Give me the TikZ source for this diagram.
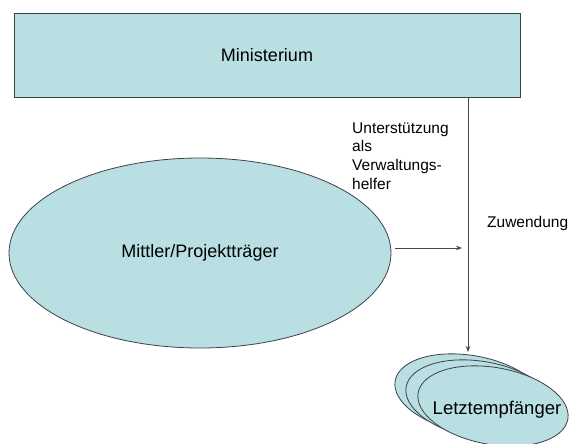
\documentclass[tikz,border=0pt]{standalone}
\usepackage{fontspec}
\setmainfont{Liberation Sans}
\usetikzlibrary{shapes.geometric,arrows.meta}
\definecolor{boxfill}{RGB}{185,223,227}
\definecolor{boxline}{RGB}{60,66,70}
\definecolor{wire}{RGB}{70,70,70}
\begin{document}
\begin{tikzpicture}[x=1pt,y=-1pt,
  unit/.style={draw=boxline,fill=boxfill,line width=0.8pt,inner sep=0pt,
    font=\fontsize{18}{21}\selectfont},
  oval/.style={unit,ellipse},
  stack/.style={oval,rotate=-10,minimum width=152pt,minimum height=77pt},
  label text/.style={inner sep=0pt,align=left,anchor=west,
    font=\fontsize{15.5}{18.6}\selectfont},
  flow/.style={draw=wire,line width=0.7pt,-{Stealth[length=6pt,width=4.5pt]}}]
\useasboundingbox (0,0) rectangle (570,444);
\fill[white] (0,0) rectangle (570,444);

% Ministry
\node[unit,rectangle,minimum width=506pt,minimum height=84pt] (min) at (267,55) {Ministerium};

% Intermediary
\node[oval,minimum width=382pt,minimum height=190pt] (mit) at (200,253) {Mittler/Projektträger};

% Final recipients, stacked
\node[stack] (l1) at (470,394) {};
\node[stack] (l2) at (481,400) {};
\node[stack] (l3) at (493,406) {};
\node (lt) at (497,410) {\fontsize{18.5}{21}\selectfont Letztempfänger};

% Labels
\node[label text] (help) at (352,156) {Unterstützung\\als\\Verwaltungs-\\helfer};
\node[label text] (zu) at (487,223) {Zuwendung};

% Connectors
\coordinate (top) at (468,97);
\coordinate (down) at (468,352);
\coordinate (hs) at (395,248);
\coordinate (he) at (462,248);
\draw[flow] (top) -- (down);
\draw[flow] (hs) -- (he);
\end{tikzpicture}
\end{document}
